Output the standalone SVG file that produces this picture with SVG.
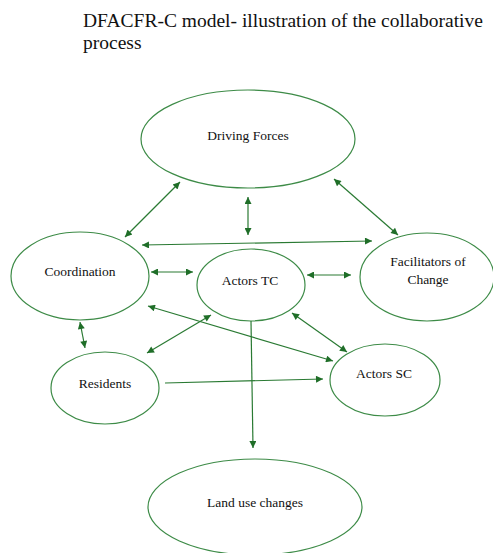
<svg xmlns="http://www.w3.org/2000/svg" width="493" height="553" viewBox="0 0 493 553">
<style>
.node{fill:#ffffff;stroke:#3d8b47;stroke-width:1.2}
.lbl{font-family:"Liberation Serif","Times New Roman",serif;font-size:13.5px;fill:#111;text-anchor:middle}
.title{font-family:"Liberation Serif","Times New Roman",serif;font-size:19.5px;fill:#111}
.cn{stroke:#2a7a33;stroke-width:1.2;fill:none}
</style>
<defs>
<marker id="ah" viewBox="0 0 10 10" refX="10" refY="5" markerWidth="9" markerHeight="7" markerUnits="userSpaceOnUse" orient="auto-start-reverse">
<path d="M0,0 L10,5 L0,10 Z" fill="#1f6e28"/>
</marker>
</defs>
<rect width="493" height="553" fill="#ffffff"/>
<text class="title" x="83" y="27">DFACFR-C model- illustration of the collaborative</text>
<text class="title" x="83" y="49">process</text>

<g id="driving-forces"><ellipse class="node" cx="248" cy="139" rx="107" ry="49"/><text class="lbl" x="248" y="140">Driving Forces</text></g>
<g id="coordination"><ellipse class="node" cx="80" cy="276" rx="69" ry="44"/><text class="lbl" x="80" y="276">Coordination</text></g>
<g id="actors-tc"><ellipse class="node" cx="251" cy="285" rx="54" ry="36"/><text class="lbl" x="250" y="285">Actors TC</text></g>
<g id="facilitators"><ellipse class="node" cx="427" cy="277" rx="67" ry="44"/><text class="lbl" x="428" y="266">Facilitators of</text><text class="lbl" x="428" y="284">Change</text></g>
<g id="residents"><ellipse class="node" cx="105" cy="388" rx="54" ry="36"/><text class="lbl" x="105" y="388">Residents</text></g>
<g id="actors-sc"><ellipse class="node" cx="385" cy="380" rx="55" ry="36"/><text class="lbl" x="384" y="378">Actors SC</text></g>
<g id="land-use"><ellipse class="node" cx="255" cy="507" rx="107" ry="48"/><text class="lbl" x="255" y="507">Land use changes</text></g>

<g id="connectors">
<line class="cn" x1="125" y1="237" x2="180" y2="182" marker-start="url(#ah)" marker-end="url(#ah)"/>
<line class="cn" x1="248" y1="197" x2="248" y2="235" marker-start="url(#ah)" marker-end="url(#ah)"/>
<line class="cn" x1="334" y1="179" x2="398" y2="235" marker-start="url(#ah)" marker-end="url(#ah)"/>
<line class="cn" x1="142" y1="245" x2="372" y2="241" marker-start="url(#ah)" marker-end="url(#ah)"/>
<line class="cn" x1="151" y1="272" x2="193" y2="272" marker-start="url(#ah)" marker-end="url(#ah)"/>
<line class="cn" x1="307" y1="275" x2="351" y2="275" marker-start="url(#ah)" marker-end="url(#ah)"/>
<line class="cn" x1="148" y1="306" x2="333" y2="361" marker-start="url(#ah)" marker-end="url(#ah)"/>
<line class="cn" x1="147" y1="353" x2="211" y2="315" marker-start="url(#ah)" marker-end="url(#ah)"/>
<line class="cn" x1="292" y1="313" x2="347" y2="352" marker-start="url(#ah)" marker-end="url(#ah)"/>
<line class="cn" x1="80" y1="322" x2="85" y2="348" marker-start="url(#ah)" marker-end="url(#ah)"/>
<line class="cn" x1="165" y1="383" x2="323" y2="379" marker-end="url(#ah)"/>
<line class="cn" x1="251" y1="321" x2="253" y2="448" marker-end="url(#ah)"/>
</g>
</svg>
